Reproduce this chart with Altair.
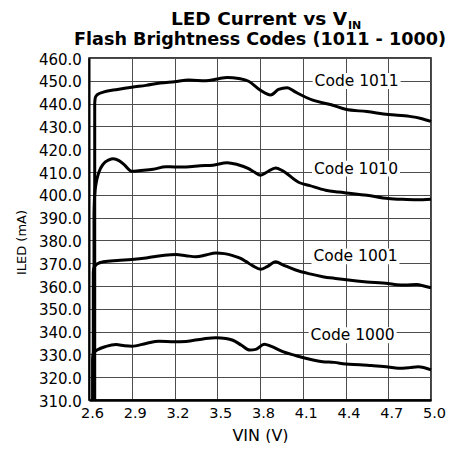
import altair as alt
import pandas as pd

FONT = "DejaVu Sans"

title_main = "LED Current vs V"
title_sub = "IN"
title_line2 = "Flash Brightness Codes (1011 - 1000)"

x_ticks = [2.6, 2.9, 3.2, 3.5, 3.8, 4.1, 4.4, 4.7, 5.0]
y_ticks = [310, 320, 330, 340, 350, 360, 370, 380, 390, 400, 410, 420, 430, 440, 450, 460]

codes = ["Code 1011", "Code 1010", "Code 1001", "Code 1000"]

x_1011 = [2.64, 2.6401, 2.645, 2.66, 2.70, 2.80, 2.90, 3.00, 3.10, 3.20, 3.30, 3.42, 3.50, 3.57,
          3.65, 3.72, 3.80, 3.875, 3.93, 3.99, 4.05, 4.17, 4.30, 4.40, 4.55, 4.70, 4.85, 4.93, 5.00]
y_1011 = [310, 440, 442.8, 444.0, 445.0, 446.2, 447.2, 448.0, 449.0, 449.6, 450.3, 450.0, 450.8, 451.5,
          451.0, 449.8, 446.0, 443.8, 446.2, 447.0, 445.0, 441.5, 439.5, 437.5, 436.5, 435.2, 434.4, 433.5, 432.2]

x_1010 = [2.635, 2.6351, 2.64, 2.65, 2.67, 2.70, 2.74, 2.77, 2.81, 2.85, 2.90, 2.95, 3.05, 3.14, 3.20,
          3.28, 3.38, 3.47, 3.57, 3.64, 3.72, 3.76, 3.805, 3.85, 3.91, 3.96, 4.07, 4.15, 4.26, 4.35,
          4.44, 4.55, 4.70, 4.80, 4.90, 5.00]
y_1010 = [310, 392, 400, 405, 410, 413.5, 415.3, 415.8, 415.0, 413.0, 410.3, 410.6, 411.2, 412.3, 412.2,
          412.2, 412.7, 413.0, 414.1, 413.3, 411.5, 410.0, 408.6, 410.0, 411.8, 410.5, 405.5, 404.0, 402.0, 401.2,
          400.6, 399.8, 398.4, 398.0, 397.8, 398.1]

x_1001 = [2.63, 2.6301, 2.635, 2.66, 2.70, 2.80, 2.90, 3.00, 3.05, 3.13, 3.21, 3.28, 3.35, 3.42, 3.49,
          3.55, 3.61, 3.66, 3.70, 3.75, 3.805, 3.85, 3.91, 3.96, 4.05, 4.15, 4.24, 4.33, 4.42, 4.55,
          4.70, 4.76, 4.82, 4.90, 4.95, 5.00]
y_1001 = [310, 366, 368, 369.8, 370.6, 371.2, 371.6, 372.3, 372.8, 373.5, 373.8, 373.3, 372.8, 373.6, 374.5,
          374.2, 373.3, 372.2, 370.8, 368.8, 367.4, 368.5, 370.6, 369.3, 367.0, 365.3, 364.1, 363.3, 362.6, 361.8,
          361.1, 360.5, 360.4, 360.7, 360.0, 359.2]

x_1000 = [2.625, 2.6251, 2.63, 2.66, 2.72, 2.79, 2.85, 2.90, 3.00, 3.09, 3.20, 3.28, 3.40, 3.49, 3.56,
          3.61, 3.67, 3.73, 3.77, 3.83, 3.88, 3.96, 4.05, 4.12, 4.24, 4.32, 4.40, 4.50, 4.58, 4.70,
          4.77, 4.85, 4.91, 5.00]
y_1000 = [310, 328, 330.5, 332.0, 333.5, 334.3, 333.8, 333.6, 334.8, 335.8, 335.5, 335.7, 336.8, 337.3, 337.0,
          336.2, 334.0, 331.9, 332.2, 334.5, 333.5, 331.2, 329.5, 328.3, 326.8, 326.5, 325.8, 325.5, 325.1, 324.5,
          323.9, 324.2, 324.6, 323.2]

label_x = [4.478, 4.474, 4.470, 4.450]
label_y = [449.9, 411.5, 373.0, 338.4]

series = [(codes[0], x_1011, y_1011), (codes[1], x_1010, y_1010),
          (codes[2], x_1001, y_1001), (codes[3], x_1000, y_1000)]
rows = []
for name, xs, ys in series:
    for i, (xv, yv) in enumerate(zip(xs, ys)):
        rows.append({"code": name, "vin": xv, "iled": yv, "idx": i})
df = pd.DataFrame(rows)
labels_df = pd.DataFrame({"code": codes, "vin": label_x, "iled": label_y})

xscale = alt.Scale(domain=[2.6, 5.0], nice=False, zero=False)
yscale = alt.Scale(domain=[310, 460], nice=False, zero=False)

x_axis = alt.Axis(values=x_ticks, tickCount=20, format=".1f", grid=True, gridColor="#4d4d4d", gridWidth=1,
                  domainColor="black", domainWidth=2.5, ticks=False, tickSize=0,
                  labelFont=FONT, labelFontSize=14.5, labelColor="black", labelPadding=17.6,
                  labelBaseline="alphabetic", labelOffset=3, labelFlush=False, labelOverlap=False,
                  title="VIN (V)", titleFont=FONT, titleFontSize=16, titleFontWeight="normal",
                  titleColor="black", titleY=40, titleBaseline="alphabetic")
y_axis = alt.Axis(values=y_ticks, tickCount=40, format=".1f", grid=True, gridColor="#4d4d4d", gridWidth=1,
                  domainColor="black", domainWidth=2, ticks=False, tickSize=0,
                  labelFont=FONT, labelFontSize=15, labelColor="black", labelPadding=7.6,
                  labelFlush=False, labelOverlap=False, labelOffset=1,
                  title="ILED (mA)", titleFont=FONT, titleFontSize=13, titleFontWeight="normal",
                  titleColor="black", titleAngle=270, titleX=-68, titleY=184,
                  titleAlign="center", titleBaseline="middle")

lines = alt.Chart(df).mark_line(color="black", strokeWidth=3, interpolate="monotone").encode(
    x=alt.X("vin:Q", scale=xscale, axis=x_axis),
    y=alt.Y("iled:Q", scale=yscale, axis=y_axis),
    detail="code:N",
    order="idx:Q",
)

boxes = alt.Chart(labels_df).mark_point(
    shape="M-1,-0.18L1,-0.18L1,0.18L-1,0.18Z", filled=True, fill="white",
    strokeWidth=0, opacity=1, size=7744,
).encode(x=alt.X("vin:Q", scale=xscale), y=alt.Y("iled:Q", scale=yscale))

texts = alt.Chart(labels_df).mark_text(
    font=FONT, fontSize=15.5, color="black", align="center", baseline="middle",
).encode(x=alt.X("vin:Q", scale=xscale), y=alt.Y("iled:Q", scale=yscale), text="code:N")

t1 = alt.Chart(pd.DataFrame({"t": [title_main]})).mark_text(
    font=FONT, fontSize=18.5, fontWeight="bold", color="black", align="right", baseline="alphabetic",
).encode(x=alt.value(258), y=alt.value(-33.5), text="t:N")
t1s = alt.Chart(pd.DataFrame({"t": [title_sub]})).mark_text(
    font=FONT, fontSize=11, fontWeight="bold", color="black", align="left", baseline="alphabetic",
).encode(x=alt.value(259), y=alt.value(-29.5), text="t:N")
t2 = alt.Chart(pd.DataFrame({"t": [title_line2]})).mark_text(
    font=FONT, fontSize=17.6, fontWeight="bold", color="black", align="center", baseline="alphabetic",
).encode(x=alt.value(171), y=alt.value(-13.5), text="t:N")

chart = alt.layer(lines, boxes, texts, t1, t1s, t2).properties(
    width=342, height=342,
    autosize=alt.AutoSizeParams(type="none"),
    padding={"left": 81, "top": 50, "right": 16, "bottom": 43},
).configure_view(stroke="black", strokeWidth=1.5)

chart.save("out.html", embed_options={"renderer": "svg", "actions": False})
